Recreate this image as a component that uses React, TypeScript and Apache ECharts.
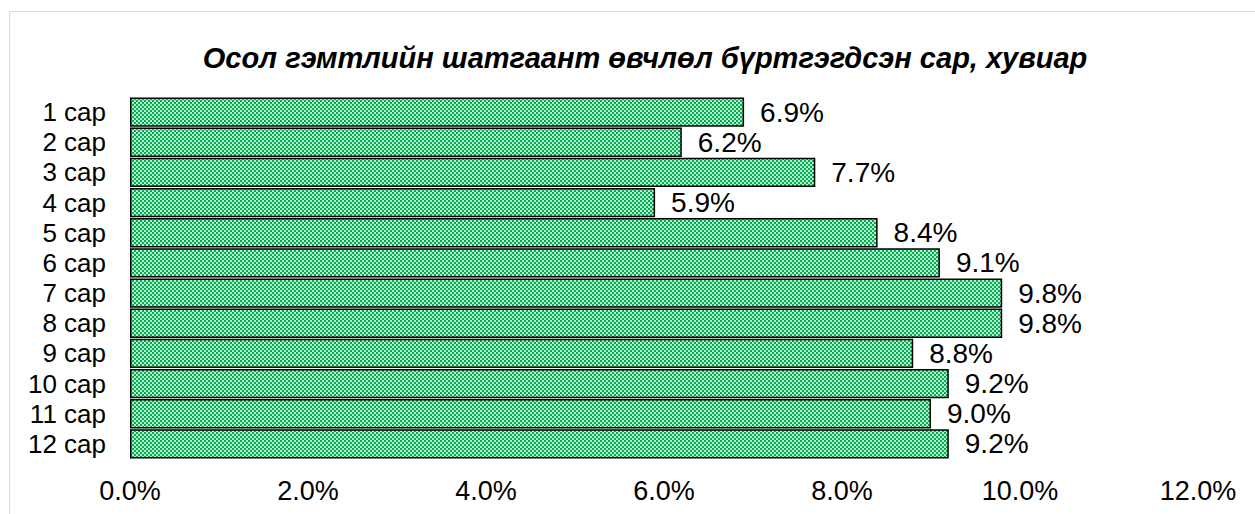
import React, { useEffect, useRef } from "react";
import * as echarts from "echarts";

const categories = ["1 сар", "2 сар", "3 сар", "4 сар", "5 сар", "6 сар", "7 сар", "8 сар", "9 сар", "10 сар", "11 сар", "12 сар"];
const values = [6.9, 6.2, 7.7, 5.9, 8.4, 9.1, 9.8, 9.8, 8.8, 9.2, 9.0, 9.2];
const title = "Осол гэмтлийн шатгаант өвчлөл бүртгэгдсэн сар, хувиар";
const axisMin = 0;
const axisMax = 12;
const axisStep = 2;

const GREEN = "#00b050";
const patternSvg =
  "data:image/svg+xml;utf8," +
  encodeURIComponent(
    `<svg xmlns="http://www.w3.org/2000/svg" width="4" height="4" viewBox="0 0 4 4">` +
      `<rect width="4" height="4" fill="${GREEN}"/>` +
      `<rect x="2.15" y="0.15" width="1.7" height="1.7" fill="#ffffff"/>` +
      `<rect x="0.15" y="2.15" width="1.7" height="1.7" fill="#ffffff"/>` +
      `</svg>`
  );

const FONT = "Arial, 'Liberation Sans', sans-serif";

export default function App() {
  const ref = useRef<HTMLDivElement>(null);
  useEffect(() => {
    if (!ref.current) return;
    const chart = echarts.init(ref.current, null, { renderer: "svg" });
    chart.setOption({
      animation: false,
      backgroundColor: "#ffffff",
      title: {
        text: title,
        left: 640,
        textAlign: "center",
        top: 38,
        textStyle: {
          fontFamily: FONT,
          fontSize: 29,
          fontWeight: "bold",
          fontStyle: "italic",
          color: "#000",
        },
      },
      graphic: [
        {
          type: "rect",
          shape: { x: 9.5, y: 11.5, width: 1260, height: 520 },
          style: { fill: "none", stroke: "#d9d9d9", lineWidth: 1 },
          silent: true,
          z: -1,
        },
      ],
      grid: { left: 130, right: 57, top: 97, bottom: 55, containLabel: false },
      xAxis: {
        type: "value",
        min: axisMin,
        max: axisMax,
        interval: axisStep,
        axisLine: { show: false },
        axisTick: { show: false },
        splitLine: { show: false },
        axisLabel: {
          margin: 18,
          formatter: (v: number) => v.toFixed(1) + "%",
          fontFamily: FONT,
          fontSize: 27,
          color: "#000",
        },
      },
      yAxis: {
        type: "category",
        data: categories,
        inverse: true,
        axisLine: { show: true, lineStyle: { color: "#d9d9d9", width: 1 } },
        axisTick: { show: false },
        axisLabel: {
          interval: 0,
          margin: 24,
          fontFamily: FONT,
          fontSize: 26,
          color: "#000",
        },
      },
      series: [
        {
          type: "bar",
          data: values,
          barCategoryGap: "3%",
          itemStyle: {
            color: { image: patternSvg, repeat: "repeat", imageWidth: 4, imageHeight: 4 } as any,
            borderColor: "#000",
            borderWidth: 1.5,
          },
          label: {
            show: true,
            position: "right",
            distance: 16,
            formatter: (p: any) => Number(p.value).toFixed(1) + "%",
            fontFamily: FONT,
            fontSize: 28,
            color: "#000",
          },
        },
      ],
    });
    return () => chart.dispose();
  }, []);
  return (
    <div
      ref={ref}
      style={{ position: "absolute", left: 0, top: 0, width: 1255, height: 514 }}
    />
  );
}
